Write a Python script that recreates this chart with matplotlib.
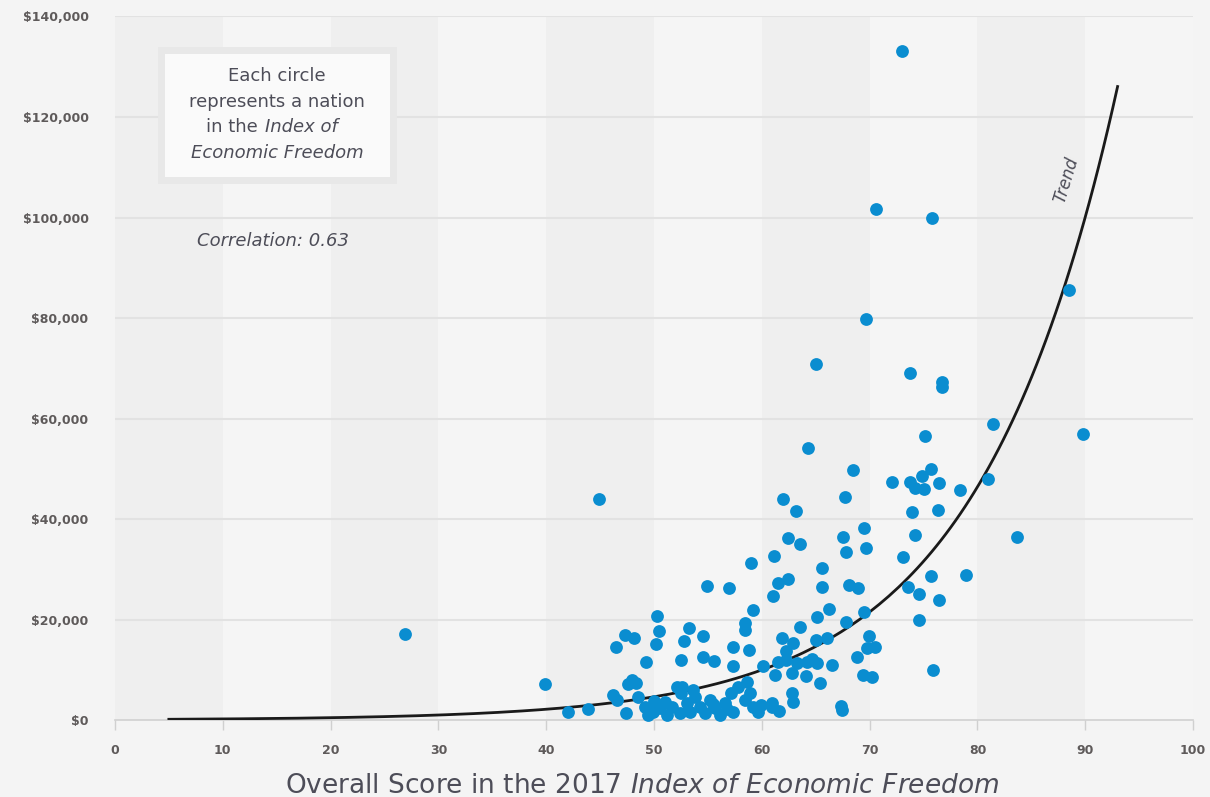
import matplotlib.pyplot as plt
import matplotlib.patches as patches
import numpy as np

# Overall score (x) and GDP per capita (y), one entry per nation
score = [26.9, 39.9, 44.9, 42.0, 43.9, 73.0, 70.6, 75.8, 69.7, 88.5,
         65.0, 73.7, 76.7, 76.7, 64.3, 89.8, 81.4, 75.1, 68.5, 62.0,
         67.7, 63.2, 72.1, 73.7, 74.2, 75.0, 74.9, 75.7, 76.4, 78.4,
         81.0, 73.9, 76.3, 74.2, 83.7, 67.5, 67.8, 69.5, 69.7, 62.4,
         63.5, 73.1, 61.1, 59.0, 65.6, 61.5, 62.4, 73.6, 75.7, 78.9,
         68.1, 68.9, 65.6, 54.9, 57.0, 61.0, 74.6, 76.4, 74.6, 69.5,
         66.2, 65.1, 59.2, 50.3, 50.5, 50.2, 53.2, 52.8, 54.5, 47.3,
         48.1, 46.5, 49.3, 52.5, 54.5, 55.6, 57.3, 57.3, 58.4, 58.4,
         67.8, 63.5, 61.9, 62.9, 65.0, 66.0, 69.9, 58.8, 62.2, 68.8,
         69.8, 70.5, 60.1, 61.5, 62.2, 63.3, 64.2, 65.1, 66.5, 61.2,
         62.8, 64.1, 69.4, 70.2, 65.4, 58.6, 57.8, 62.8, 62.9, 60.9,
         67.3, 67.4, 75.9, 48.0, 47.6, 48.3, 52.1, 52.6, 46.2, 46.6,
         48.5, 47.4, 64.7, 49.2, 49.4, 49.9, 50.6, 51.2, 51.7, 52.4,
         53.1, 53.3, 53.8, 54.3, 54.7, 55.2, 55.7, 56.1, 56.6, 57.1,
         57.3, 58.4, 58.9, 59.2, 59.6, 60.9, 52.5, 53.6, 50.0, 51.0,
         55.5, 56.8, 59.9, 61.6]
gdp = [17100, 7160, 44000, 1590, 2190, 133100, 101700, 99900, 79800, 85600,
       70800, 69000, 67300, 66300, 54100, 56900, 58900, 56500, 49800, 44000,
       44400, 41600, 47400, 47400, 46200, 46000, 48600, 49900, 47200, 45800,
       48000, 41400, 41800, 36800, 36400, 36400, 33400, 38200, 34200, 36200,
       35000, 32400, 32600, 31200, 30200, 27300, 28100, 26500, 28700, 28900,
       26900, 26300, 26500, 26700, 26300, 24700, 25100, 23900, 19900, 21500,
       22100, 20500, 21900, 20700, 17700, 15100, 18300, 15700, 16700, 16900,
       16300, 14500, 11500, 11900, 12500, 11700, 14500, 10700, 19300, 17900,
       19500, 18500, 16300, 15300, 15900, 16300, 16700, 13900, 13700, 12500,
       14300, 14500, 10700, 11500, 11900, 11300, 11500, 11300, 10900, 9000,
       9400, 8800, 9000, 8600, 7400, 7600, 6600, 5400, 3600, 3400,
       2800, 2000, 10000, 8000, 7200, 7400, 6600, 6600, 5000, 4000,
       4600, 1400, 12100, 2600, 1000, 1600, 2400, 1000, 2600, 1400,
       3400, 1600, 4600, 2600, 1400, 4000, 2400, 1000, 3400, 5400,
       1600, 4000, 5400, 2600, 1600, 2600, 5400, 6000, 3800, 3600,
       3200, 2200, 3000, 1800]

# exponential trend: gdp = trend_a * exp(trend_b * score)
trend_a = 21500 * np.exp(-0.0769 * 70)
trend_b = 0.0769
trend_x = np.linspace(5, 93, 200)
trend_y = trend_a * np.exp(trend_b * trend_x)

x_ticks = list(range(0, 101, 10))
y_ticks = list(range(0, 140001, 20000))
y_labels = ["$" + format(v, ",") for v in y_ticks]

txt = "#4d4d58"
tick_col = "#5e5a5a"
fig = plt.figure(figsize=(12.1, 7.97), dpi=100, facecolor="#f4f4f4")
ax = fig.add_axes([0.095, 0.0966, 0.891, 0.8827])
ax.set_facecolor("#f5f5f5")

for x0 in range(0, 100, 20):
    ax.axvspan(x0, x0 + 10, color="#efefef", lw=0, zorder=0)
for yv in y_ticks[1:]:
    ax.axhline(yv, color="#e2e2e2", lw=1.5, zorder=1)

ax.plot(trend_x, trend_y, color="#1a1a1a", lw=2, zorder=3)
ax.scatter(score, gdp, s=85, color="#0a8dd0", lw=0, zorder=4, clip_on=False)

ax.set_xlim(0, 100)
ax.set_ylim(0, 140000)
for s in ["top", "right", "left"]:
    ax.spines[s].set_visible(False)
ax.spines["bottom"].set_color("#d0d0d0")
ax.spines["bottom"].set_linewidth(1.2)
ax.set_xticks(x_ticks)
ax.set_yticks(y_ticks)
ax.set_yticklabels(y_labels)
ax.tick_params(axis="x", length=7, width=1, color="#d0d0d0", pad=10,
               labelsize=9, labelcolor=tick_col)
ax.tick_params(axis="y", length=0, pad=19, labelsize=9, labelcolor=tick_col)
for lab in ax.get_xticklabels() + ax.get_yticklabels():
    lab.set_fontweight("bold")

# note box
W, H = 1210, 797
box = patches.Rectangle((160.5 / W, 1 - 179.5 / H), 232.5 / W, 129 / H,
                        transform=fig.transFigure, facecolor="#fafafa",
                        edgecolor="#e8e8e8", lw=5, zorder=2)
fig.patches.append(box)
cx = 277 / W
kw = dict(fontsize=13, color=txt, zorder=6)
fig.text(cx, 1 - 81 / H, "Each circle", ha="center", va="baseline", **kw)
fig.text(cx, 1 - 107 / H, "represents a nation", ha="center", va="baseline", **kw)
fig.text(258 / W, 1 - 132 / H, "in the", ha="right", va="baseline", **kw)
fig.text(265 / W, 1 - 132 / H, "Index of", ha="left", va="baseline",
         style="italic", **kw)
fig.text(cx, 1 - 158 / H, "Economic Freedom", ha="center", va="baseline",
         style="italic", **kw)

fig.text(273 / W, 1 - 241 / H, "Correlation: 0.63", ha="center", va="center",
         style="italic", **kw)
fig.text(1066 / W, 1 - 180 / H, "Trend", ha="center", va="center",
         fontsize=12, color=txt, style="italic", rotation=73)

# x axis title, sits at the bottom edge
fig.text(642 / W, 4 / H,
         "Overall Score in the 2017 $\\it{Index\\ of\\ Economic\\ Freedom}$",
         ha="center", va="baseline", fontsize=19, color=txt)

fig.savefig("out.png", dpi=100, facecolor=fig.get_facecolor())
